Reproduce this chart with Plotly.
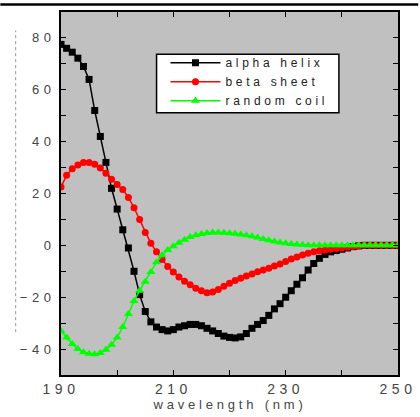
import plotly.graph_objects as go

wavelength = list(range(190, 251))

alpha_helix = [77.5, 76.0, 74.5, 72.2, 69.0, 64.0, 52.0, 42.0, 32.0, 22.0,
               14.0, 6.0, -1.0, -10.0, -19.0, -25.5, -29.5, -31.5, -32.5, -33.0,
               -32.5, -31.5, -31.0, -30.5, -30.5, -31.0, -32.0, -33.0, -34.0, -35.0,
               -35.5, -35.7, -35.3, -34.0, -32.0, -30.5, -29.0, -27.0, -24.5, -22.5,
               -20.0, -17.5, -15.0, -12.5, -9.5, -7.0, -5.0, -3.5, -2.5, -2.0,
               -1.5, -1.0, -0.5, -0.2, 0.0, 0.0, 0.0, 0.0, 0.0, 0.0, 0.0]

beta_sheet = [22.5, 27.0, 29.5, 31.0, 32.0, 32.0, 31.3, 29.8, 27.8, 25.5,
              23.5, 21.5, 18.5, 14.5, 10.0, 5.0, 0.8, -2.5, -5.5, -8.2,
              -10.3, -12.2, -13.8, -15.2, -16.5, -17.5, -18.3, -18.0, -17.0, -15.8,
              -14.6, -13.6, -12.7, -11.8, -11.0, -10.2, -9.5, -8.8, -8.0, -7.2,
              -6.2, -5.3, -4.5, -3.7, -3.0, -2.5, -2.1, -1.8, -1.5, -1.2,
              -1.0, -0.7, -0.4, -0.2, 0.0, 0.0, 0.0, 0.0, 0.0, 0.0, 0.0]

random_coil = [-33.0, -35.5, -38.0, -40.0, -41.2, -41.8, -42.0, -41.5, -40.3, -38.3,
               -35.5, -31.5, -26.5, -21.5, -17.5, -14.0, -10.3, -6.5, -3.8, -1.8,
               -0.3, 1.0, 2.2, 3.2, 3.9, 4.4, 4.8, 5.0, 5.0, 4.9,
               4.7, 4.5, 4.2, 3.9, 3.5, 3.0, 2.5, 2.0, 1.5, 1.1,
               0.8, 0.5, 0.3, 0.2, 0.0, 0.0, 0.0, 0.0, 0.0, 0.0,
               0.0, 0.0, 0.0, 0.0, 0.0, 0.0, 0.0, 0.0, 0.0, 0.0, 0.0]

series_names = ["alpha helix", "beta sheet", "random coil"]
x_title = "wavelength (nm)"

FONT = "Liberation Sans, Arial, sans-serif"

fig = go.Figure()
fig.add_trace(go.Scatter(x=wavelength, y=alpha_helix, name=series_names[0], mode="lines+markers",
                         line=dict(color="black", width=1.5),
                         marker=dict(symbol="square", size=7, color="black")))
fig.add_trace(go.Scatter(x=wavelength, y=beta_sheet, name=series_names[1], mode="lines+markers",
                         line=dict(color="#ff0000", width=1.5),
                         marker=dict(symbol="circle", size=7, color="#ff0000")))
fig.add_trace(go.Scatter(x=wavelength, y=random_coil, name=series_names[2], mode="lines+markers",
                         line=dict(color="#00ff00", width=1.5),
                         marker=dict(symbol="triangle-up", size=8, color="#00ff00")))

axis_common = dict(showgrid=False, zeroline=False, showline=True, linecolor="black", linewidth=2,
                   mirror="ticks", ticks="inside", ticklen=5, tickcolor="black", tickwidth=1)

fig.update_layout(
    width=420, height=417,
    margin=dict(l=61, r=17, t=10, b=42),
    paper_bgcolor="white", plot_bgcolor="#c0c0c0",
    showlegend=True,
    legend=dict(x=0.310, y=0.900, xanchor="left", yanchor="top",
                bgcolor="rgba(0,0,0,0)", borderwidth=0,
                font=dict(family=FONT, size=12, color="#222222"),
                itemwidth=50, tracegroupgap=0),
    xaxis=dict(range=[190, 250], tickmode="linear", tick0=190, dtick=20,
               minor=dict(dtick=10, ticks="inside", ticklen=5, tickcolor="black"),
               tickfont=dict(family=FONT, size=14, color="#444444"),
               ticklabelstandoff=0,
               **axis_common),
    yaxis=dict(range=[-50, 90], tickmode="linear", tick0=-40, dtick=20,
               minor=dict(dtick=10, ticks="inside", ticklen=5, tickcolor="black"),
               tickfont=dict(family=FONT, size=13, color="#444444"),
               ticklabelstandoff=1,
               **axis_common),
)

# x-axis title placed close under the tick labels, as in the original
fig.add_annotation(text=x_title, xref="paper", yref="paper", x=0.5, y=-0.082,
                   xanchor="center", yanchor="middle", showarrow=False,
                   font=dict(family=FONT, size=13, color="#444444"))

# legend frame
fig.add_shape(type="rect", xref="paper", yref="paper", x0=0.2836, x1=0.8246, y0=0.7223, y1=0.8837,
              fillcolor="white", line=dict(color="black", width=1.5), layer="above")
# decorations outside the plot
fig.add_shape(type="line", xref="paper", yref="paper", x0=-0.18, x1=1.06, y0=1.0205, y1=1.0205,
              line=dict(color="black", width=2.5))
fig.add_shape(type="line", xref="paper", yref="paper", x0=-0.1345, x1=-0.1345, y0=0.118, y1=0.949,
              line=dict(color="#9090b8", width=1, dash="dot"))

post = """
var s=document.createElement('style');
s.textContent='body{margin:0;padding:0} .xtick text{letter-spacing:4.5px} .ytick text{letter-spacing:4.5px} .legendtext{letter-spacing:3.7px} .annotation-text{letter-spacing:3.8px}';
document.head.appendChild(s);
var gd=document.getElementById('{plot_id}');
gd.layout.legend.font.family='Liberation Sans, Arial, Helvetica, sans-serif';
Plotly.newPlot(gd, gd.data, gd.layout, {displayModeBar:false});
"""

fig.write_html("out.html", post_script=post, config={"displayModeBar": False})
